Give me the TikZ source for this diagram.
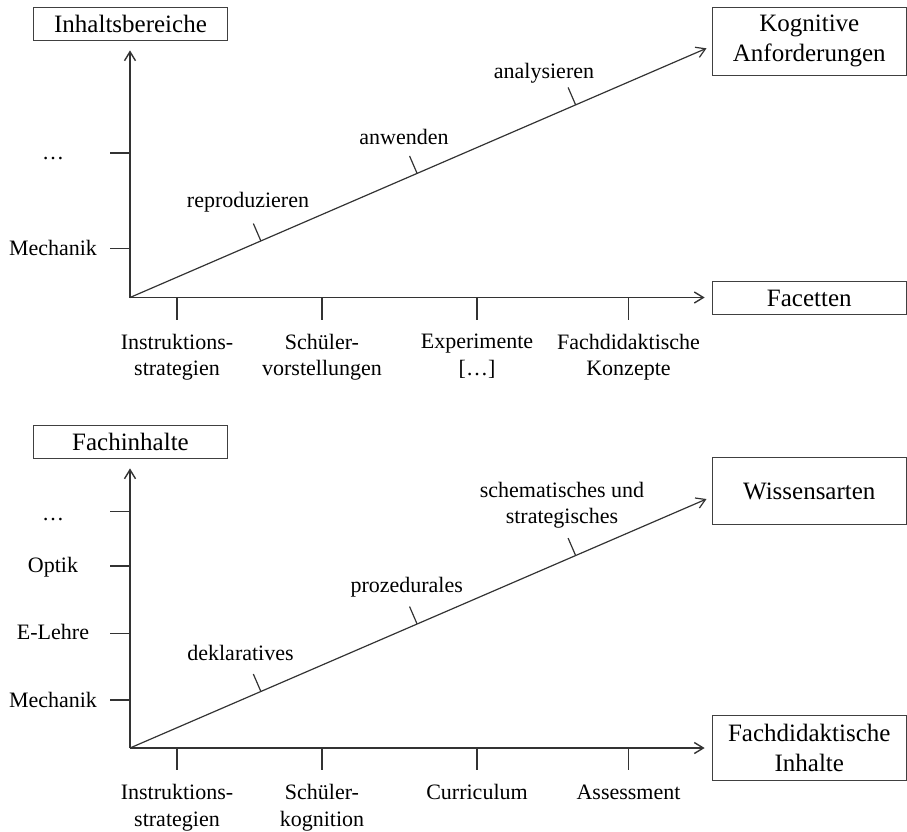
\documentclass[tikz,border=0pt]{standalone}
\usepackage{fontspec}
\setmainfont{Liberation Serif}
\usetikzlibrary{arrows.meta, positioning, calc}

\begin{document}
\begin{tikzpicture}[
    x=1pt, y=-1pt,
    every node/.style={font=\fontsize{22}{26.5}\selectfont, inner sep=0pt, text=black},
    box/.style={rectangle, draw=black!75, line width=0.8pt, minimum width=194.5pt,
                minimum height=33pt, align=center, font=\fontsize{25}{30}\selectfont},
    axis/.style={-{Straight Barb[length=9pt, width=11pt]}, line width=1.4pt, black!80},
    diag/.style={axis, line width=1.2pt},
    axtick/.style={line width=1.2pt, black!80},
    lab/.style={align=center},
  ]
    \useasboundingbox (0,0) rectangle (907,831);
    \coordinate (o1) at (130,297.5);
    \coordinate (o2) at (130,748);
    \coordinate (d1) at (706.5,48.3);
    \coordinate (d2) at (706.5,499);
    \node[box] (inh) at (130.5,23.5) {Inhaltsbereiche};
    \node[box, minimum height=68pt] (kog) at (809.3,41) {Kognitive\\Anforderungen};
    \node[box] (fac) at (809.3,298) {Facetten};
    \node[box] (finh) at (130.5,441.5) {Fachinhalte};
    \node[box, minimum height=67pt] (wis) at (809.3,491) {Wissensarten};
    \node[box, minimum height=65pt] (fdi) at (809.3,748) {Fachdidaktische\\Inhalte};
    \draw[axis, shorten >=10pt] (o1) -- (o1 |- inh.south);
    \draw[axis, shorten >=7pt] (o1) -- (o1 -| fac.west);
    \draw[diag] (o1) -- (d1);
    \draw[axis, shorten >=10pt] (o2) -- (o2 |- finh.south);
    \draw[axis, shorten >=7pt] (o2) -- (o2 -| fdi.west);
    \draw[diag] (o2) -- (d2);
    \foreach \y/\ly/\txt [count=\i] in {248.3/248/Mechanik, 153/159/…}{
      \draw[axtick] (130,\y) -- (110,\y);
      \node (ia\i) at (53,\ly) {\txt};}
    \foreach \y/\ly/\txt [count=\i] in {700/700/Mechanik, 633.3/632/E-Lehre,
        566/567/Optik, 511.7/519/…}{
      \draw[axtick] (130,\y) -- (110,\y);
      \node (fa\i) at (53,\ly) {\txt};}
    \foreach \x/\txt [count=\i] in {177/{Instruktions-\\strategien}, 322/{Schüler-\\vorstellungen},
        477/{Experimente\\{[…]}}, 628.5/{Fachdidaktische\\Konzepte}}{
      \draw[axtick] (\x,297.5) -- (\x,319.5) node[below=14pt, lab] (fc\i) {\txt};}
    \foreach \x/\txt [count=\i] in {177/{Instruktions-\\strategien}, 322/{Schüler-\\kognition},
        477/Curriculum, 628.5/Assessment}{
      \draw[axtick] (\x,748) -- (\x,770) node[below=14pt, lab] (fd\i) {\txt};}
    \foreach \t/\lx/\ly/\txt [count=\i] in {0.227/248/202/reproduzieren,
        0.498/404/137/anwenden, 0.773/544/73/analysieren}{
      \coordinate (k\i) at ($(o1)!\t!(d1)$);
      \draw[axtick] (k\i) -- ($(k\i)!19pt!90:(d1)$);
      \node (ka\i) at (\lx,\ly) {\txt};}
    \foreach \t/\lx/\ly/\txt [count=\i] in {0.227/240.5/653/deklaratives,
        0.498/406.7/587/prozedurales, 0.773/562/505/{schematisches und\\strategisches}}{
      \coordinate (w\i) at ($(o2)!\t!(d2)$);
      \draw[axtick] (w\i) -- ($(w\i)!19pt!90:(d2)$);
      \node[lab] (wa\i) at (\lx,\ly) {\txt};}
  \end{tikzpicture}
\end{document}
